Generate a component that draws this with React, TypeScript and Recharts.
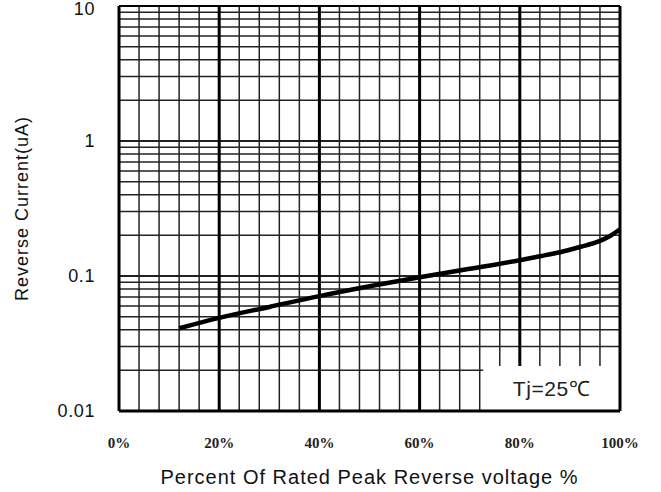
import React from 'react';
import { LineChart, Line, XAxis, YAxis, ReferenceLine, ReferenceArea } from 'recharts';

// percent of rated peak reverse voltage
const percent = [12, 20, 30, 40, 50, 60, 70, 80, 84, 88, 92, 96, 98, 100];
// reverse current, uA
const current = [0.041, 0.049, 0.059, 0.071, 0.084, 0.098, 0.113, 0.131, 0.14, 0.15, 0.164, 0.182, 0.198, 0.222];

const xTicks = [0, 20, 40, 60, 80, 100];
const yTicks = [0.01, 0.1, 1, 10];
const yTickLabels = ['0.01', '0.1', '1', '10'];

const xMinor = [4, 8, 12, 16, 24, 28, 32, 36, 44, 48, 52, 56, 64, 68, 72, 76, 84, 88, 92, 96];
const xMajor = [20, 40, 60, 80];
const yMinor = [
    0.02, 0.03, 0.04, 0.05, 0.06, 0.07, 0.08, 0.09,
    0.2, 0.3, 0.4, 0.5, 0.6, 0.7, 0.8, 0.9,
    2, 3, 4, 5, 6, 7, 8, 9,
];
const yMajor = [0.1, 1];

const data = percent.map((p, i) => ({ p, current: current[i] }));

// the white note box in the lower right corner cuts the grid
const BOX_X = 72.7;
const BOX_Y = 0.0215;

const GRID = '#222';
const SANS = 'Liberation Sans, Arial, sans-serif';

const XTick = ({ x, payload }: any) => (
    <text x={x} y={448} textAnchor="middle" fontFamily="Liberation Serif, Times New Roman, serif" fontWeight="bold" fontSize={15} fill="#222">
        {payload.value}%
    </text>
);

const YTick = ({ y, payload }: any) => {
    const idx = yTicks.indexOf(payload.value);
    return (
        <text x={95} y={y} dy={6} textAnchor="end" fontFamily={SANS} fontSize={18} letterSpacing={0.6} fill="#111">
            {yTickLabels[idx] ?? payload.value}
        </text>
    );
};

const vLine = (v: number, width: number, color: string) => {
    const cut = v > BOX_X;
    if (cut) {
        return (
            <ReferenceLine
                key={`x-${v}`}
                segment={[{ x: v, y: BOX_Y }, { x: v, y: 10 }]}
                stroke={color}
                strokeWidth={width}
            />
        );
    }
    return <ReferenceLine key={`x-${v}`} x={v} stroke={color} strokeWidth={width} />;
};

const hLine = (v: number, width: number) => {
    if (v < BOX_Y) {
        return (
            <ReferenceLine
                key={`y-${v}`}
                segment={[{ x: 0, y: v }, { x: BOX_X, y: v }]}
                stroke={GRID}
                strokeWidth={width}
            />
        );
    }
    return <ReferenceLine key={`y-${v}`} y={v} stroke={GRID} strokeWidth={width} />;
};

const App: React.FC = () => {
    return (
        <div style={{ position: 'absolute', left: 0, top: 0, width: 661, height: 492, background: '#fff' }}>
            <LineChart width={661} height={492} data={data} margin={{ top: 6, right: 41, bottom: 0, left: 0 }}>
                <XAxis
                    dataKey="p"
                    type="number"
                    domain={[0, 100]}
                    ticks={xTicks}
                    tick={<XTick />}
                    tickLine={false}
                    axisLine={false}
                    height={81}
                    label={{
                        value: 'Percent Of Rated Peak Reverse voltage %',
                        position: 'insideBottom',
                        offset: 8,
                        fontFamily: SANS,
                        fontSize: 20,
                        letterSpacing: 1,
                        fill: '#111',
                    }}
                />
                <YAxis
                    type="number"
                    scale="log"
                    domain={[0.01, 10]}
                    ticks={yTicks}
                    allowDataOverflow
                    tick={<YTick />}
                    tickLine={false}
                    axisLine={false}
                    width={119}
                    label={{
                        value: 'Reverse Current(uA)',
                        angle: -90,
                        position: 'insideLeft',
                        offset: 22,
                        style: { textAnchor: 'middle' },
                        fontFamily: SANS,
                        fontSize: 18,
                        letterSpacing: 1,
                        fill: '#111',
                    }}
                />
                {yMinor.map((v) => hLine(v, 1.5))}
                {yMajor.map((v) => hLine(v, 2))}
                {xMinor.map((v) => vLine(v, 1.5, GRID))}
                {xMajor.map((v) => vLine(v, 3, '#000'))}
                <ReferenceArea
                    x1={BOX_X}
                    x2={100}
                    y1={0.01}
                    y2={BOX_Y}
                    fill="none"
                    stroke="none"
                    label={{
                        value: 'Tj=25℃',
                        position: 'center',
                        fontFamily: SANS,
                        fontSize: 21,
                        letterSpacing: 0.6,
                        fill: '#222',
                    }}
                />
                <ReferenceLine x={0} stroke="#000" strokeWidth={3} />
                <ReferenceLine x={100} stroke="#000" strokeWidth={3} />
                <ReferenceLine y={10} stroke="#000" strokeWidth={2} />
                <ReferenceLine y={0.01} stroke="#000" strokeWidth={3} />
                <Line
                    type="monotone"
                    dataKey="current"
                    stroke="#000"
                    strokeWidth={4.5}
                    dot={false}
                    isAnimationActive={false}
                />
            </LineChart>
        </div>
    );
};

export default App;
